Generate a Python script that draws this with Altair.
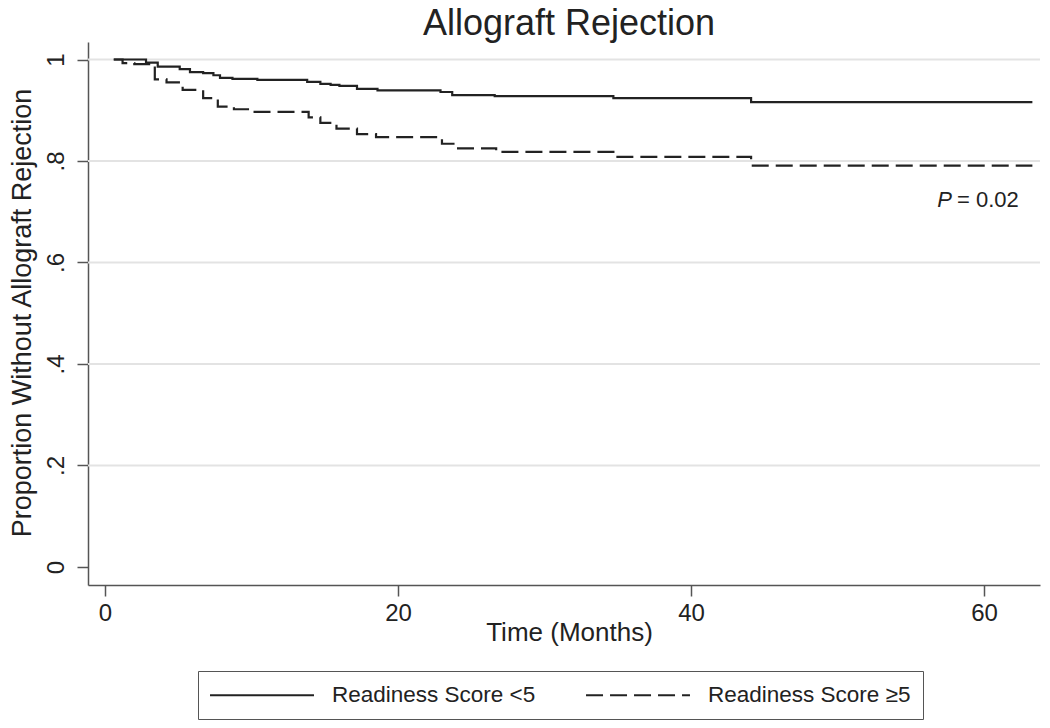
import altair as alt
import pandas as pd

# ---- data ----
groups = ["Readiness Score <5", "Readiness Score ≥5"]

time_lt5 = [0.6, 2.8, 3.6, 5.1, 5.8, 6.7, 7.4, 7.85, 8.7, 10.4, 13.8, 14.7, 15.4, 16.0,
            17.2, 18.6, 22.9, 23.7, 26.6, 34.7, 44.1, 63.3]
surv_lt5 = [1.0, 0.994, 0.986, 0.981, 0.975, 0.973, 0.969, 0.964, 0.962, 0.960, 0.956, 0.952,
            0.950, 0.948, 0.942, 0.939, 0.936, 0.930, 0.928, 0.924, 0.916, 0.916]

time_ge5 = [0.6, 1.2, 2.0, 3.4, 4.2, 5.3, 6.7, 7.7, 8.8, 10.0, 13.9, 14.7, 15.8, 17.2,
            18.5, 23.0, 23.9, 26.7, 34.7, 44.1, 63.3]
surv_ge5 = [1.0, 0.993, 0.991, 0.961, 0.955, 0.940, 0.924, 0.907, 0.902, 0.897, 0.886, 0.875,
            0.864, 0.853, 0.847, 0.834, 0.825, 0.818, 0.808, 0.791, 0.791]

x_ticks = [0, 20, 40, 60]
y_ticks = [0, 0.2, 0.4, 0.6, 0.8, 1.0]
grid_values = [0.2, 0.4, 0.6, 0.8, 1.0]

p_label = "P"
p_value_text = "= 0.02"
p_x, p_rest_x, p_y = 56.8, 58.15, 0.71

FONT = "Liberation Sans"
TXT = "#222222"
AX = "#555555"

df = pd.concat([
    pd.DataFrame({"t": time_lt5, "s": surv_lt5, "group": groups[0]}),
    pd.DataFrame({"t": time_ge5, "s": surv_ge5, "group": groups[1]}),
], ignore_index=True)

W, H = 952, 543
xscale = alt.Scale(domain=[-1.16, 63.82], nice=False, zero=False)
yscale = alt.Scale(domain=[-0.0355, 1.0345], nice=False, zero=False)

x_axis = alt.Axis(
    values=x_ticks, title="Time (Months)", grid=False,
    domainColor=AX, domainWidth=1.5, tickColor=AX, tickWidth=1.5, tickSize=11,
    labelFont=FONT, labelFontSize=24, labelColor=TXT, labelPadding=5,
    titleFont=FONT, titleFontSize=26, titleFontWeight="normal", titleColor=TXT,
    titleBaseline="alphabetic", titleY=55, titleX=481,
)
y_axis = alt.Axis(
    values=y_ticks, title="Proportion Without Allograft Rejection", grid=False,
    labelExpr="datum.value == 0 ? '0' : (datum.value == 1 ? '1' : replace(format(datum.value, '.1f'), '0.', '.'))",
    domainColor=AX, domainWidth=1.5, tickColor=AX, tickWidth=1.5, tickSize=11,
    labelFont=FONT, labelFontSize=24, labelColor=TXT, labelAngle=270,
    labelAlign="center", labelBaseline="alphabetic", labelPadding=14,
    titleFont=FONT, titleFontSize=27, titleFontWeight="normal", titleColor=TXT,
    titleAngle=270, titleAlign="center", titleBaseline="alphabetic",
    titleX=-58, titleY=H / 2 - 1,
)

lines = alt.Chart(df).mark_line(
    interpolate="step-after", strokeWidth=2.2, color="#222222"
).encode(
    x=alt.X("t:Q", scale=xscale, axis=x_axis),
    y=alt.Y("s:Q", scale=yscale, axis=y_axis),
    strokeDash=alt.StrokeDash(
        "group:N", scale=alt.Scale(domain=groups, range=[[1, 0], [17, 7]]),
        legend=alt.Legend(
            title=None, orient="none", legendX=110, legendY=629,
            direction="horizontal", strokeColor=AX, padding=12,
            symbolType="M-4.95,0H4.95", symbolSize=441, symbolStrokeWidth=2.2,
            symbolStrokeColor="#222222", symbolOffset=40,
            labelFont=FONT, labelFontSize=22.5, labelColor=TXT,
            labelOffset=58, columnPadding=45, labelLimit=0,
        )),
)

grid = alt.Chart(pd.DataFrame({"g": grid_values})).mark_rule(
    color="#e3e3e3", strokeWidth=2
).encode(y=alt.Y("g:Q", scale=yscale, axis=y_axis))

ann = pd.DataFrame({"x": [p_x], "x2": [p_rest_x], "y": [p_y], "p": [p_label], "r": [p_value_text]})
p_text = alt.Chart(ann).mark_text(
    font=FONT, fontSize=22, fontStyle="italic", color=TXT, align="left", baseline="alphabetic"
).encode(x=alt.X("x:Q", scale=xscale, axis=x_axis), y=alt.Y("y:Q", scale=yscale, axis=y_axis), text="p:N")
r_text = alt.Chart(ann).mark_text(
    font=FONT, fontSize=22, color=TXT, align="left", baseline="alphabetic"
).encode(x=alt.X("x2:Q", scale=xscale, axis=x_axis), y=alt.Y("y:Q", scale=yscale, axis=y_axis), text="r:N")

chart = alt.layer(grid, lines, p_text, r_text).properties(
    width=W, height=H,
    background="white",
    title=alt.TitleParams("Allograft Rejection", font=FONT, fontSize=36, fontWeight="normal",
                          color=TXT, anchor="middle", baseline="top", offset=0, dx=5, dy=1),
    autosize=alt.AutoSizeParams(type="none"),
    padding={"left": 80, "top": 34, "right": 2, "bottom": 135},
).configure_view(stroke=None)

chart.save("out.html", embed_options={"renderer": "svg", "actions": False})
